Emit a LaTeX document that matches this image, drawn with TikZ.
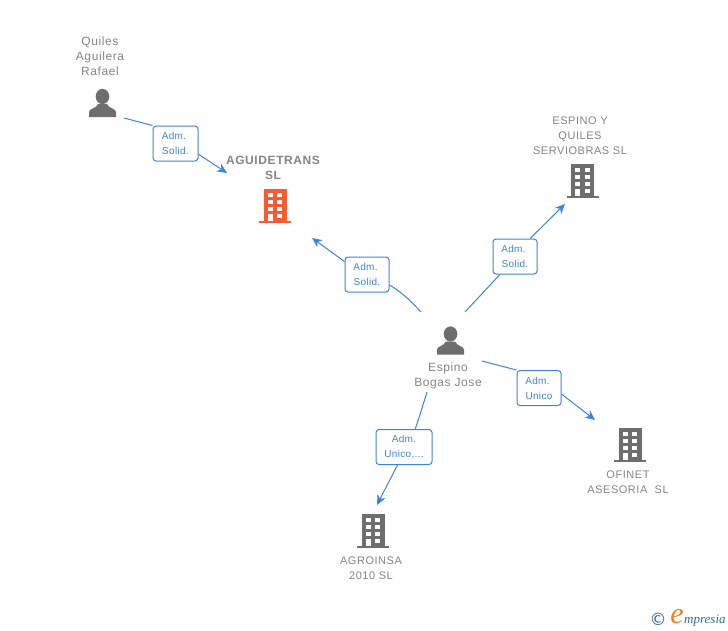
\documentclass[tikz,border=0pt]{standalone}
\usepackage{fontspec}
\usetikzlibrary{arrows.meta}
\newfontfamily\lab[LetterSpace=5]{Liberation Sans}
\newfontfamily\tag[LetterSpace=3]{Liberation Sans}
\newfontfamily\logofont{Liberation Serif}
\definecolor{txtgray}{HTML}{858585}
\definecolor{icongray}{HTML}{6E6E6E}
\definecolor{orangeb}{HTML}{FA5A2E}
\definecolor{linkblue}{HTML}{3F83DF}
\definecolor{logoteal}{HTML}{2F6F8F}
\definecolor{logoorange}{HTML}{EE8420}
\pgfdeclarelayer{bg}
\pgfsetlayers{bg,main}
\newcommand\admtxt{Adm.\hspace*{3pt}}
\tikzset{
  x=1pt,y=-1pt,
  lbl/.style={draw=linkblue,line width=1pt,rounded corners=3pt,fill=white,text=linkblue,
    align=center,inner sep=0pt,minimum width=#1,minimum height=35pt,
    font=\tag\fontsize{10}{15}\selectfont},
  name12/.style={text=txtgray,align=center,inner sep=0pt,font=\lab\fontsize{12}{15}\selectfont},
  name11/.style={text=txtgray,align=center,inner sep=0pt,font=\lab\fontsize{11}{15}\selectfont},
  nameb/.style={text=txtgray,align=center,inner sep=0pt,font=\lab\bfseries\fontsize{12}{15}\selectfont},
  conn/.style={draw=linkblue,line width=1pt},
  arrowc/.style={conn,-{Stealth[length=10pt,width=9pt]}},
  person/.pic={
    \fill[icongray] (0,-6.5) ellipse[x radius=6.8,y radius=7.6];
    \fill[icongray] (-13.5,14) -- (-13.5,9) .. controls (-13.5,5.5) and (-6,5.5) .. (-4.5,1)
      -- (4.5,1) .. controls (6,5.5) and (13.5,5.5) .. (13.5,9) -- (13.5,14) -- cycle;
  },
  building/.pic={
    \fill[#1] (-11.5,-17) rectangle (11.5,14.5);
    \fill[#1] (-16,14.5) rectangle (16,17);
    \foreach \r in {-13.5,-6.5,0.5}{
      \fill[white] (-7.5,\r) rectangle (-2.5,\r+4.6);
      \fill[white] (2.3,\r) rectangle (7.3,\r+4.6);
    }
    \fill[white] (-7.5,7.5) rectangle (-2.5,14.5);
    \fill[white] (2.3,7.5) rectangle (7.3,12);
  }
}
\begin{document}
\begin{tikzpicture}
\begin{pgfonlayer}{bg}
\fill[white] (0,0) rectangle (728,630);
\end{pgfonlayer}
\useasboundingbox (0,0) rectangle (728,630);

% icons
\coordinate (quiles) at (102.5,103);
\coordinate (espino) at (450.5,340.5);
\coordinate (aguide) at (275,206);
\coordinate (squiles) at (582.5,181);
\coordinate (ofinet) at (630,445);
\coordinate (agro) at (373,531);
\pic at (quiles) {person};
\pic at (espino) {person};
\pic at (aguide) {building=orangeb};
\pic at (squiles) {building=icongray};
\pic at (ofinet) {building=icongray};
\pic at (agro) {building=icongray};

% names
\node[name12] (tquiles) at (100,56.5) {Quiles\\Aguilera\\Rafael};
\node[nameb] (taguide) at (273,168) {AGUIDETRANS\\SL};
\node[name11] (tsquiles) at (580,136) {ESPINO Y\\QUILES\\SERVIOBRAS SL};
\node[name12] (tespino) at (448,375.5) {Espino\\Bogas Jose};
\node[name11] (tofinet) at (628,482.5) {OFINET\\ASESORIA\ \ SL};
\node[name11] (tagro) at (371,568.5) {AGROINSA\\2010 SL};

% connector labels
\node[lbl=45pt] (l1) at (175.5,143.5) {\admtxt\\Solid.};
\node[lbl=44pt] (l2) at (367,274.5) {\admtxt\\Solid.};
\node[lbl=44pt] (l3) at (515,256.5) {\admtxt\\Solid.};
\node[lbl=44pt] (l4) at (539,388) {\admtxt\\Unico};
\node[lbl=56pt] (l5) at (404,447) {Adm.\\Unico,...};

% connector free ends
\coordinate (s1) at (124,118);
\coordinate (e1) at (227,173);
\coordinate (s2) at (421,312);
\coordinate (e2) at (312,238);
\coordinate (s3) at (465,312);
\coordinate (e3) at (565,204);
\coordinate (s4) at (482,361);
\coordinate (e4) at (595,420);
\coordinate (s5) at (427,392);
\coordinate (e5) at (377,505);

\begin{pgfonlayer}{bg}
\draw[conn] (s1) -- (l1.north west);
\draw[arrowc] (l1.-25) -- (e1);
\draw[conn] (s2) .. controls (410,300) and (400,291) .. (l2.-25);
\draw[arrowc] (l2.150) -- (e2);
\draw[conn] (s3) -- (l3.-130);
\draw[arrowc] (l3.50) -- (e3);
\draw[conn] (s4) -- (l4.north west);
\draw[arrowc] (l4.-15) -- (e4);
\draw[conn] (s5) .. controls (423,405) and (419,418) .. (l5.58);
\draw[arrowc] (l5.-110) -- (e5);
\end{pgfonlayer}

% logo
\node[text=logoteal,inner sep=0pt,font=\fontspec{DejaVu Sans}\fontsize{17}{17}\selectfont] (copyr) at (658,619) {©};
\node[text=logoorange,inner sep=0pt,font=\logofont\itshape\fontsize{30}{30}\selectfont] (logoe) at (677,617) {e};
\node[text=logoteal,inner sep=0pt,anchor=base west,font=\logofont\itshape\fontsize{13}{13}\selectfont] (logot) at (684,623.5) {mpresia};
\end{tikzpicture}
\end{document}
